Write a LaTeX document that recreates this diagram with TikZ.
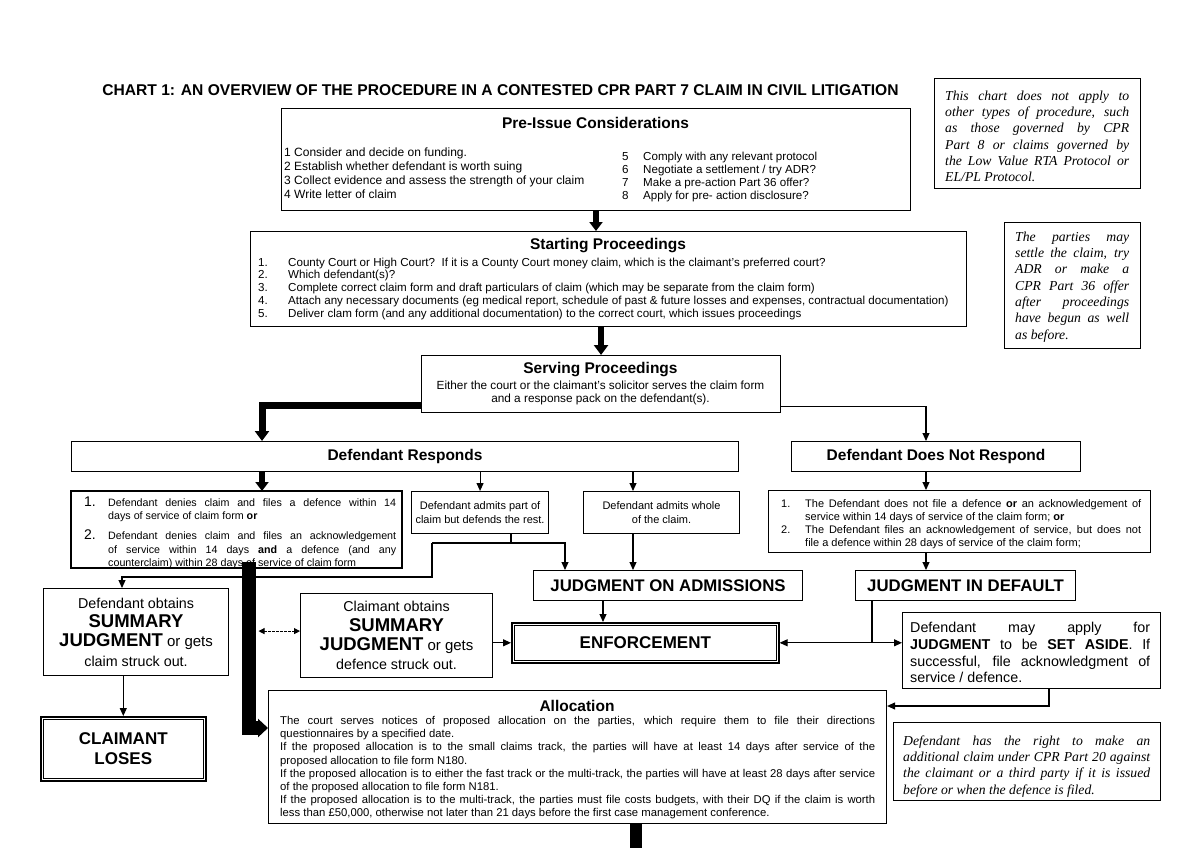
\documentclass[tikz,border=0pt]{standalone}
\usepackage{fontspec}
\setmainfont{Liberation Sans}
\newfontfamily\notefont{Liberation Serif}
\usetikzlibrary{arrows.meta,calc}
\newcommand\fsz[2]{\fontsize{#1}{#2}\selectfont}
\newcommand\numb[2]{\makebox[#1][l]{#2}}
\begin{document}
\begin{tikzpicture}[x=1pt,y=-1pt,
  box/.style={draw, line width=1.1pt, inner sep=0pt, anchor=north west},
  dblbox/.style={draw, line width=1.6pt, inner sep=0pt, anchor=north west},
  inner/.style={line width=0.9pt},
  txt/.style={inner sep=0pt, anchor=north west, align=left},
  jpar/.style={inner sep=0pt, anchor=north west, align=justify},
  head/.style={font=\fsz{15.5}{18}\bfseries, inner sep=0pt},
  note/.style={jpar, font=\notefont\itshape\fsz{13.7}{16.3}},
  tarr/.style={line width=1.1pt, -{Triangle[width=7pt,length=8pt]}},
  plain/.style={line width=1.1pt}
]
\fill[white] (0,0) rectangle (1200,848);
\useasboundingbox (0,0) rectangle (1200,848);

% ---------- title ----------
\node[font=\fsz{15.6}{18}\bfseries, inner sep=0pt] (title) at (500.5,90) {CHART 1: AN OVERVIEW OF THE PROCEDURE IN A CONTESTED CPR PART 7 CLAIM IN CIVIL LITIGATION};

% ---------- notes ----------
\node[box, minimum width=206pt, minimum height=110pt] (n1) at (934,78) {};
\node[note, text width=184pt] (n1t) at (945,90.5) {This chart does not apply to\linebreak other types of procedure, such\linebreak as those governed by CPR\linebreak Part 8 or claims governed by\linebreak the Low Value RTA Protocol or\linebreak EL/PL Protocol.};
\node[box, minimum width=136pt, minimum height=126pt] (n2) at (1004,222) {};
\node[note, text width=114pt] (n2t) at (1015,231.5) {The parties may\linebreak settle the claim, try\linebreak ADR or make a\linebreak CPR Part 36 offer\linebreak after proceedings\linebreak have begun as well\linebreak as before.};
\node[box, minimum width=267pt, minimum height=78pt] (n3) at (893,722) {};
\node[note, text width=247pt] (n3t) at (903,735.5) {Defendant has the right to make an\linebreak additional claim under CPR Part 20 against\linebreak the claimant or a third party if it is issued\linebreak before or when the defence is filed.};

% ---------- pre-issue ----------
\node[box, minimum width=629pt, minimum height=102pt] (pre) at (281,108) {};
\node[head] (preT) at (595.5,123) {Pre-Issue Considerations};
\node[txt, font=\fsz{12}{14}] (preL) at (284,148) {1 Consider and decide on funding.\\2 Establish whether defendant is worth suing\\3 Collect evidence and assess the strength of your claim\\4 Write letter of claim};
\node[txt, font=\fsz{11.6}{13}] (preR) at (622,152) {\numb{21pt}{5}Comply with any relevant protocol\\\numb{21pt}{6}Negotiate a settlement / try ADR?\\\numb{21pt}{7}Make a pre-action Part 36 offer?\\\numb{21pt}{8}Apply for pre- action disclosure?};

% ---------- starting ----------
\node[box, minimum width=716pt, minimum height=95pt] (st) at (250,231) {};
\node[head] (stT) at (608,245.5) {Starting Proceedings};
\node[txt, font=\fsz{11.6}{12.8}] (stL) at (258,257.5) {\numb{30pt}{1.}County Court or High Court?\ \ If it is a County Court money claim, which is the claimant’s preferred court?\\\numb{30pt}{2.}Which defendant(s)?\\\numb{30pt}{3.}Complete correct claim form and draft particulars of claim (which may be separate from the claim form)\\\numb{30pt}{4.}Attach any necessary documents (eg medical report, schedule of past \& future losses and expenses, contractual documentation)\\\numb{30pt}{5.}Deliver clam form (and any additional documentation) to the correct court, which issues proceedings};

% ---------- serving ----------
\node[box, minimum width=359pt, minimum height=57pt] (sv) at (421,355) {};
\node[head] (svT) at (600.5,370) {Serving Proceedings};
\node[font=\fsz{11.8}{13}, align=center, inner sep=0pt] (svL) at (600.5,393) {Either the court or the claimant’s solicitor serves the claim form\\and a response pack on the defendant(s).};

% ---------- responds / not ----------
\node[box, minimum width=667pt, minimum height=30pt, font=\fsz{15.5}{18}\bfseries] (resp) at (71,441) {Defendant Responds};
\node[box, minimum width=289pt, minimum height=30pt, font=\fsz{15.5}{18}\bfseries] (noresp) at (791,441) {Defendant Does Not Respond};

% denies box (text clipped at bottom)
\node[box, minimum width=330pt, minimum height=76pt] (den) at (71,491) {};
\begin{scope}
\clip (den.north west) rectangle (den.south east);
\node[txt, font=\fsz{14}{16}] (d1n) at (84,496.5) {1.};
\node[txt, font=\fsz{14}{16}] (d2n) at (84,529.5) {2.};
\node[jpar, font=\fsz{10.7}{13}, text width=288pt] (d1t) at (108,498.6) {Defendant denies claim and files a defence within 14\linebreak days of service of claim form \textbf{or}};
\node[jpar, font=\fsz{10.7}{13.5}, text width=288pt] (d2t) at (108,531.6) {Defendant denies claim and files an acknowledgement\linebreak of service within 14 days \textbf{and} a defence (and any\linebreak counterclaim) within 28 days of service of claim form};
\end{scope}
\draw[line width=1.1pt] (den.north west) rectangle (den.south east);

\node[box, minimum width=137pt, minimum height=42pt, font=\fsz{11}{14}, align=center] (part) at (411,491) {Defendant admits part of\\claim but defends the rest.};
\node[box, minimum width=156pt, minimum height=42pt, font=\fsz{11}{14}, align=center] (whole) at (583,491) {Defendant admits whole\\of the claim.};

\node[box, minimum width=382pt, minimum height=62pt] (nol) at (768,490) {};
\node[txt, font=\fsz{11}{13}] (nl1n) at (781,499.5) {1.};
\node[txt, font=\fsz{11}{13}] (nl2n) at (781,525.5) {2.};
\node[jpar, font=\fsz{11}{13}, text width=336pt] (nl1t) at (805,499.5) {The Defendant does not file a defence \textbf{or} an acknowledgement of\linebreak service within 14 days of service of the claim form; \textbf{or}};
\node[jpar, font=\fsz{11}{13}, text width=336pt] (nl2t) at (805,525.5) {The Defendant files an acknowledgement of service, but does not\linebreak file a defence within 28 days of service of the claim form;};

% ---------- judgments ----------
\node[box, minimum width=269pt, minimum height=30pt, font=\fsz{16.8}{18}\bfseries] (jadm) at (533,570) {JUDGMENT ON ADMISSIONS};
\node[box, minimum width=220pt, minimum height=30pt, font=\fsz{16.8}{18}\bfseries] (jdef) at (855,570) {JUDGMENT IN DEFAULT};
\node[dblbox, minimum width=267pt, minimum height=40pt, font=\fsz{17}{18}\bfseries] (enf) at (511,622) {ENFORCEMENT};
\draw[inner] ($(enf.north west)+(3.5,3.5)$) rectangle ($(enf.south east)+(-3.5,-3.5)$);

\node[box, minimum width=258pt, minimum height=76pt] (sa) at (902,612) {};
\node[jpar, font=\fsz{14.3}{16.7}, text width=240pt] (sat) at (910,622.3) {Defendant may apply for\linebreak \textbf{JUDGMENT} to be \textbf{SET ASIDE}. If\linebreak successful, file acknowledgment of\linebreak service / defence.};

% ---------- summary judgment boxes ----------
\node[box, minimum width=185pt, minimum height=87pt, align=center, font=\fsz{14.3}{19.4}] (dsj) at (43,588) {Defendant obtains\\{\fsz{18.5}{19.4}\bfseries SUMMARY}\\{\fsz{18.5}{19.4}\bfseries JUDGMENT} {\fsz{15}{19.4}or gets}\\claim struck out.};
\node[box, minimum width=192pt, minimum height=84pt, align=center, font=\fsz{14.3}{19.2}] (csj) at (300,593) {Claimant obtains\\{\fsz{18.5}{19.2}\bfseries SUMMARY}\\{\fsz{18.5}{19.2}\bfseries JUDGMENT} {\fsz{15}{19.2}or gets}\\defence struck out.};
\node[dblbox, minimum width=165pt, minimum height=64pt, align=center, font=\fsz{17}{20}\bfseries] (loses) at (40,716) {CLAIMANT\\LOSES};
\draw[inner] ($(loses.north west)+(3.5,3.5)$) rectangle ($(loses.south east)+(-3.5,-3.5)$);

% ---------- allocation ----------
\node[box, minimum width=618pt, minimum height=133pt] (alloc) at (268,690) {};
\node[head] (alT) at (577,706) {Allocation};
\node[jpar, font=\fsz{11.3}{13.14}, text width=595pt] (alt) at (280,716.3) {The court serves notices of proposed allocation on the parties, which require them to file their directions\linebreak questionnaires by a specified date.\par
If the proposed allocation is to the small claims track, the parties will have at least 14 days after service of the\linebreak proposed allocation to file form N180.\par
If the proposed allocation is to either the fast track or the multi-track, the parties will have at least 28 days after service\linebreak of the proposed allocation to file form N181.\par
If the proposed allocation is to the multi-track, the parties must file costs budgets, with their DQ if the claim is worth\linebreak less than £50,000, otherwise not later than 21 days before the first case management conference.};

% ---------- coordinates ----------
\coordinate (a1) at ($(pre.south west)+(315,0)$);
\coordinate (s1) at ($(sv.south west)+(0,-8)$);
\coordinate (s2) at ($(resp.north west)+(191,0)$);
\coordinate (s3) at ($(sv.south east)+(0,-7)$);
\coordinate (nrx) at ($(noresp.north west)+(135,0)$);
\coordinate (wx) at ($(whole.north west)+(50,0)$);
\coordinate (pb) at ($(part.south west)+(100,0)$);
\coordinate (pL) at (432,543);
\coordinate (pR) at (565,543);
\coordinate (dx) at (122,577);
\coordinate (jx) at ($(jadm.south west)+(70,0)$);
\coordinate (jd) at ($(jdef.south west)+(17,0)$);
\coordinate (b1) at ($(den.south west)+(177.5,-6)$);
\coordinate (b2) at ($(alloc.north west)+(0,38)$);
\coordinate (dd) at ($(b1)+(10,69)$);
\coordinate (sb) at ($(sa.south west)+(147,0)$);
\coordinate (sc) at ($(alloc.north east)+(0,16)$);
\coordinate (ab) at ($(alloc.south west)+(368,0)$);
\coordinate (pagebot) at (0,848);

% ---------- thick connectors ----------
\draw[line width=5.5pt, -{Triangle[width=13pt,length=9pt]}] (a1) -- (a1 |- st.north);
\draw[line width=6.5pt, -{Triangle[width=14pt,length=10pt]}] (sv.north |- st.south) -- (sv.north);
\draw[line width=7pt, -{Triangle[width=14pt,length=10pt]}] (s1) -| (s2);
\draw[line width=5.5pt, -{Triangle[width=13pt,length=9pt]}] (s2 |- resp.south) -- (s2 |- den.north);
\draw[line width=14pt, -{Triangle[width=18pt,length=10pt]}] (b1) |- (b2);
\draw[line width=12pt] (ab) -- (ab |- pagebot);

% ---------- thin connectors ----------
\draw[tarr] (s3) -| (nrx);
\draw[tarr] (part.north |- resp.south) -- (part.north);
\draw[tarr] (wx |- resp.south) -- (wx);
\draw[plain] (pb) -- (pb |- pL);
\draw[tarr] (pL) -- (pR) -- (pR |- jadm.north);
\draw[tarr] (pL) -- (pL |- dx) -- (dx) -- (dx |- dsj.north);
\draw[tarr] (wx |- whole.south) -- (wx |- jadm.north);
\draw[tarr] (nrx |- noresp.south) -- (nrx |- nol.north);
\draw[tarr] (nrx |- nol.south) -- (nrx |- jdef.north);
\draw[tarr] (jx) -- (jx |- enf.north);
\draw[plain] (jd) -- (jd |- enf.east);
\draw[tarr] (jd |- enf.east) -- (enf.east);
\draw[tarr] (jd |- enf.east) -- (enf.east -| sa.west);
\draw[tarr] (csj.east |- enf.west) -- (enf.west);
\draw[tarr] (loses.north |- dsj.south) -- (loses.north);
\draw[line width=1pt, dash pattern=on 2.5pt off 1.5pt, {Triangle[width=6pt,length=6pt]}-{Triangle[width=6pt,length=6pt]}] (dd) -- (dd -| csj.west);
\draw[tarr] (sb) |- (sc);
\end{tikzpicture}
\end{document}
